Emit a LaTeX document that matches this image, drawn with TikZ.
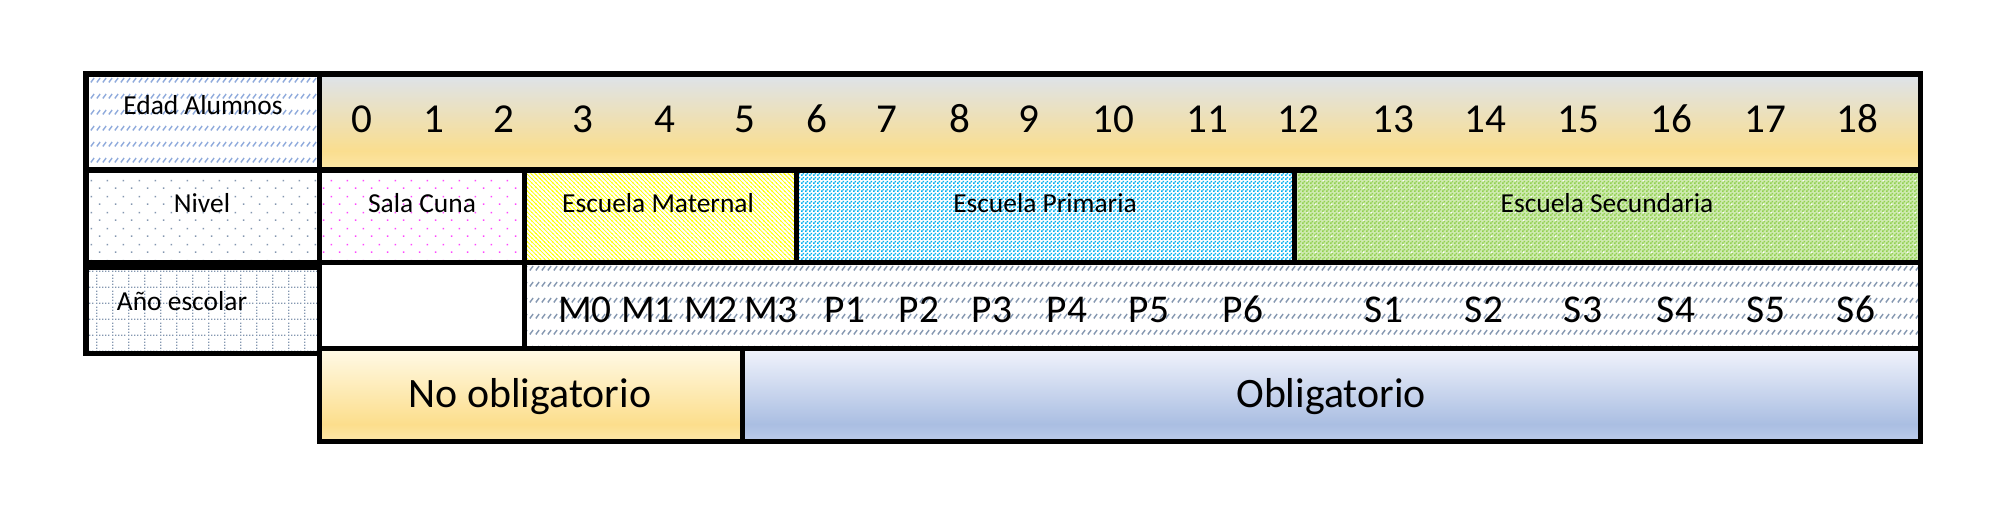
\documentclass[tikz,border=0pt]{standalone}
\usepackage{fontspec}
\setmainfont{Carlito}
\usetikzlibrary{patterns}

\definecolor{edadblue}{RGB}{143,170,220}
\definecolor{slate}{RGB}{132,151,176}
\definecolor{cunapink}{RGB}{255,70,255}
\definecolor{matyellow}{RGB}{255,255,0}
\definecolor{primblue}{RGB}{0,176,240}
\definecolor{secgreen}{RGB}{146,208,80}
\definecolor{agetop}{RGB}{221,227,235}
\definecolor{agegold}{RGB}{250,222,143}
\definecolor{agebot}{RGB}{252,231,168}
\definecolor{notop}{RGB}{255,250,232}
\definecolor{nogold}{RGB}{252,222,140}
\definecolor{nobot}{RGB}{253,231,168}
\definecolor{obtop}{RGB}{242,244,252}
\definecolor{obblue}{RGB}{170,190,226}
\definecolor{obbot}{RGB}{188,204,234}

\pgfdeclareverticalshading{agerow}{100bp}{color(0bp)=(agebot); color(25bp)=(agebot); color(35bp)=(agegold); color(75bp)=(agetop); color(100bp)=(agetop)}
\pgfdeclareverticalshading{norow}{100bp}{color(0bp)=(nobot); color(25bp)=(nobot); color(34bp)=(nogold); color(75bp)=(notop); color(100bp)=(notop)}
\pgfdeclareverticalshading{obrow}{100bp}{color(0bp)=(obbot); color(25bp)=(obbot); color(34bp)=(obblue); color(75bp)=(obtop); color(100bp)=(obtop)}

% short slashes in rows
\pgfdeclarepatternformonly{dashrows}{\pgfqpoint{0pt}{0pt}}{\pgfqpoint{1.6pt}{4.45pt}}{\pgfqpoint{1.6pt}{4.45pt}}{
  \pgfsetlinewidth{0.42pt}
  \pgfpathmoveto{\pgfqpoint{0.25pt}{1.6pt}}
  \pgfpathlineto{\pgfqpoint{1.25pt}{2.9pt}}
  \pgfusepath{stroke}}
% staggered dots
\pgfdeclarepatternformonly{sparsedots}{\pgfqpoint{0pt}{0pt}}{\pgfqpoint{4.55pt}{4.55pt}}{\pgfqpoint{4.55pt}{4.55pt}}{
  \pgfpathrectangle{\pgfqpoint{0.9pt}{0.9pt}}{\pgfqpoint{0.45pt}{0.45pt}}
  \pgfpathrectangle{\pgfqpoint{3.18pt}{3.18pt}}{\pgfqpoint{0.45pt}{0.45pt}}
  \pgfusepath{fill}}
% dotted grid
\pgfdeclarepatternformonly{dotgrid}{\pgfqpoint{0pt}{0pt}}{\pgfqpoint{4.55pt}{4.55pt}}{\pgfqpoint{4.55pt}{4.55pt}}{
  \pgfpathrectangle{\pgfqpoint{0pt}{0pt}}{\pgfqpoint{0.4pt}{0.4pt}}
  \pgfpathrectangle{\pgfqpoint{0.91pt}{0pt}}{\pgfqpoint{0.4pt}{0.4pt}}
  \pgfpathrectangle{\pgfqpoint{1.82pt}{0pt}}{\pgfqpoint{0.4pt}{0.4pt}}
  \pgfpathrectangle{\pgfqpoint{2.73pt}{0pt}}{\pgfqpoint{0.4pt}{0.4pt}}
  \pgfpathrectangle{\pgfqpoint{3.64pt}{0pt}}{\pgfqpoint{0.4pt}{0.4pt}}
  \pgfpathrectangle{\pgfqpoint{0pt}{0.91pt}}{\pgfqpoint{0.4pt}{0.4pt}}
  \pgfpathrectangle{\pgfqpoint{0pt}{1.82pt}}{\pgfqpoint{0.4pt}{0.4pt}}
  \pgfpathrectangle{\pgfqpoint{0pt}{2.73pt}}{\pgfqpoint{0.4pt}{0.4pt}}
  \pgfpathrectangle{\pgfqpoint{0pt}{3.64pt}}{\pgfqpoint{0.4pt}{0.4pt}}
  \pgfusepath{fill}}
% fine downward diagonal
\pgfdeclarepatternformonly{fineslash}{\pgfqpoint{-0.1pt}{-0.1pt}}{\pgfqpoint{1.3pt}{1.3pt}}{\pgfqpoint{1.2pt}{1.2pt}}{
  \pgfsetlinewidth{0.22pt}
  \pgfpathmoveto{\pgfqpoint{-0.1pt}{1.3pt}}
  \pgfpathlineto{\pgfqpoint{1.3pt}{-0.1pt}}
  \pgfpathmoveto{\pgfqpoint{-0.1pt}{0.1pt}}
  \pgfpathlineto{\pgfqpoint{0.1pt}{-0.1pt}}
  \pgfpathmoveto{\pgfqpoint{1.1pt}{1.3pt}}
  \pgfpathlineto{\pgfqpoint{1.3pt}{1.1pt}}
  \pgfusepath{stroke}}
% small checker
\pgfdeclarepatternformonly{checker}{\pgfqpoint{0pt}{0pt}}{\pgfqpoint{1.14pt}{1.14pt}}{\pgfqpoint{1.14pt}{1.14pt}}{
  \pgfpathrectangle{\pgfqpoint{0pt}{0pt}}{\pgfqpoint{0.57pt}{0.57pt}}
  \pgfpathrectangle{\pgfqpoint{0.57pt}{0.57pt}}{\pgfqpoint{0.57pt}{0.57pt}}
  \pgfusepath{fill}}

\begin{document}
\begin{tikzpicture}[x=0.01cm,y=-0.01cm,
  tabline/.style={line width=0.05cm,line cap=rect},
  small/.style={font=\fontsize{7.8}{9}\selectfont,inner sep=0pt,anchor=base},
  age/.style={font=\fontsize{11.7}{14}\selectfont,inner sep=0pt,anchor=base},
  year/.style={font=\fontsize{11.2}{13}\selectfont,inner sep=0pt,anchor=base},
  big/.style={font=\fontsize{11.9}{14}\selectfont,inner sep=0pt,anchor=base}]
\fill[white] (0,0) rectangle (2002,512);
\useasboundingbox (0,0) rectangle (2002,512);

% fills
\fill[pattern=dashrows,pattern color=edadblue] (86,74) rectangle (319,170);
\fill[pattern=sparsedots,pattern color=slate] (86,170) rectangle (319,262);
\fill[pattern=dotgrid,pattern color=slate] (86,267) rectangle (319,353);
\shade[shading=agerow] (319,74) rectangle (1920,170);
\fill[pattern=sparsedots,pattern color=cunapink] (319,170) rectangle (524,262);
\fill[pattern=fineslash,pattern color=matyellow] (524,170) rectangle (796,262);
\fill[pattern=checker,pattern color=primblue] (796,170) rectangle (1294,262);
\fill[secgreen!45] (1294,170) rectangle (1920,262);
\fill[pattern=checker,pattern color=secgreen] (1294,170) rectangle (1920,262);
\fill[pattern=sparsedots,pattern color=white] (1294,170) rectangle (1920,262);
\fill[pattern=dashrows,pattern color=slate] (524,262) rectangle (1920,348);
\shade[shading=norow] (319,348) rectangle (742,441);
\shade[shading=obrow] (742,348) rectangle (1920,441);

% lines
\begin{scope}[tabline]
\draw (86,74) -| (1920,441) -| (319,74);
\draw (86,74) rectangle (319,262);
\draw (86,267) rectangle (319,353);
\draw (86,170) -- (1920,170);
\draw (319,262) -- (1920,262);
\draw (319,348) -- (1920,348);
\draw (524,170) -- (524,348);
\draw (796,170) -- (796,262);
\draw (1294,170) -- (1294,262);
\draw (742,348) -- (742,441);
\end{scope}

% labels
\node[small] (edad) at (203,114) {Edad Alumnos};
\node[small] (nivel) at (202,212) {Nivel};
\node[small] (anio) at (182,310) {Año escolar};
\node[small] (cuna) at (422,212) {Sala Cuna};
\node[small] (maternal) at (658,212) {Escuela Maternal};
\node[small] (primaria) at (1045,212) {Escuela Primaria};
\node[small] (secundaria) at (1607,212) {Escuela Secundaria};

\foreach \a/\x in {0/362,1/434,2/504,3/583,4/665,5/745,6/817,7/887,8/960,9/1029,
  10/1113,11/1207,12/1298,13/1393,14/1485,15/1578,16/1671,17/1765,18/1857}
  \node[age] (age\a) at (\x,132) {\a};

\foreach \n/\x in {M0/585,M1/648,M2/711,M3/771,P1/845,P2/919,P3/992,P4/1067,P5/1149,
  P6/1243,S1/1384,S2/1484,S3/1583,S4/1676,S5/1766,S6/1856}
  \node[year] (yr\n) at (\x,322) {\n};

\node[big] (noobl) at (530,407) {No obligatorio};
\node[big] (obl) at (1331,407) {Obligatorio};
\end{tikzpicture}
\end{document}
